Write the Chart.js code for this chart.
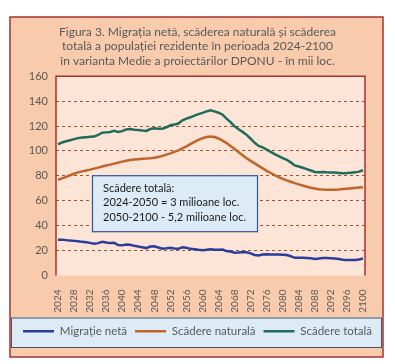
<!DOCTYPE html>
<html>
<head>
<meta charset="utf-8">
<script src="https://cdn.jsdelivr.net/npm/chart.js"></script>
<style>
body { margin: 0; background: #fff; }
</style>
</head>
<body>
<canvas id="grafic" width="395" height="364"></canvas>
<script>
// anii 2024-2100
const ani = Array.from({length: 77}, (_, i) => String(2024 + i));

const migratieNeta = [
    28.8, 28.8, 28.4, 28.0, 27.8, 27.5, 27.0, 26.7, 26.2, 25.5,
    26.0, 27.0, 26.5, 26.0, 26.2, 24.5, 24.2, 24.8, 24.6, 23.8,
    23.3, 22.6, 22.0, 23.2, 23.4, 22.5, 21.5, 21.8, 22.2, 21.6,
    21.4, 22.6, 22.3, 21.4, 21.0, 20.6, 20.3, 20.6, 21.0, 20.6,
    20.7, 20.8, 19.6, 19.2, 18.3, 18.4, 18.8, 18.7, 17.8, 16.5,
    16.0, 16.8, 17.1, 16.9, 16.8, 16.9, 16.7, 16.5, 15.5, 14.2,
    14.3, 14.3, 14.1, 13.8, 13.3, 13.6, 14.1, 14.0, 13.9, 13.7,
    13.2, 12.6, 12.5, 12.5, 12.5, 12.8, 13.6
];

const scadereNaturala = [
    76.8, 78.0, 79.2, 80.5, 81.7, 82.8, 83.6, 84.3, 85.0, 85.8,
    86.6, 87.5, 88.3, 89.0, 89.8, 90.6, 91.4, 92.1, 92.7, 93.1,
    93.4, 93.7, 93.9, 94.2, 94.6, 95.2, 96.0, 97.0, 98.0, 99.2,
    100.5, 102.0, 103.7, 105.5, 107.2, 108.8, 110.2, 111.2, 111.6, 111.2,
    110.0, 108.3, 106.3, 104.0, 101.5, 99.0, 96.5, 94.2, 92.0, 90.0,
    88.0, 86.0, 84.0, 82.3, 80.6, 79.0, 77.6, 76.4, 75.3, 74.2,
    73.2, 72.2, 71.3, 70.5, 69.8, 69.3, 69.0, 68.8, 68.8, 68.9,
    69.1, 69.4, 69.7, 70.0, 70.3, 70.6, 70.9
];

const scadereTotala = [
    105.2, 106.8, 107.8, 108.6, 109.5, 110.3, 110.7, 111.0, 111.3, 111.5,
    112.8, 114.6, 114.9, 115.2, 116.1, 115.3, 115.9, 117.3, 117.6, 117.0,
    116.8, 116.4, 116.1, 117.6, 118.2, 117.9, 117.8, 119.0, 120.6, 121.2,
    122.0, 124.6, 126.0, 127.0, 128.3, 129.5, 130.6, 131.8, 132.6, 131.8,
    130.7, 129.1, 125.9, 123.2, 119.8, 117.4, 115.3, 112.9, 109.8, 106.5,
    104.0, 102.8, 101.1, 99.2, 97.4, 95.9, 94.3, 92.9, 90.8, 88.4,
    87.5, 86.5, 85.4, 84.3, 83.1, 82.9, 83.1, 82.8, 82.7, 82.6,
    82.3, 82.0, 82.2, 82.5, 82.8, 83.4, 84.5
];

const titlu = [
    'Figura 3. Migrația netă, scăderea naturală și scăderea',
    'totală a populației rezidente în perioada 2024-2100',
    'în varianta Medie a proiectărilor DPONU - în mii loc.'
];
const notaText = [
    'Scădere totală:',
    '2024-2050 = 3 milioane loc.',
    '2050-2100 - 5,2 milioane loc.'
];

Chart.defaults.font.family = 'Lato';
Chart.defaults.color = '#595959';

// fundalurile, chenarul graficului si caseta cu text
const decor = {
    id: 'decor',
    beforeDraw(chart) {
        const {ctx, chartArea: a, legend} = chart;
        ctx.save();
        ctx.fillStyle = '#F8CBAD';
        ctx.fillRect(10, 17, 373, 340);
        ctx.strokeStyle = '#A8322D';
        ctx.lineWidth = 1.5;
        ctx.strokeRect(10, 17, 373, 340);
        ctx.fillStyle = '#FCE4D6';
        ctx.fillRect(a.left, a.top, a.right - a.left, a.bottom - a.top);
        ctx.fillStyle = '#DDEBF7';
        ctx.fillRect(11, legend.top, 371, legend.height);
        ctx.strokeStyle = '#44546A';
        ctx.lineWidth = 1;
        ctx.strokeRect(11.5, legend.top + 0.5, 370, legend.height);
        ctx.restore();
    },
    beforeDatasetsDraw(chart) {
        const {ctx, chartArea: a} = chart;
        ctx.save();
        ctx.strokeStyle = '#A8322D';
        ctx.lineWidth = 1.5;
        ctx.beginPath();
        ctx.moveTo(a.left, a.bottom);
        ctx.lineTo(a.left, a.top);
        ctx.lineTo(a.right, a.top);
        ctx.lineTo(a.right, a.bottom);
        ctx.stroke();
        ctx.restore();
    },
    afterDraw(chart) {
        const {ctx, chartArea: a} = chart;
        const x = a.left + 36, y = a.top + 99;
        ctx.save();
        ctx.fillStyle = '#DDEBF7';
        ctx.fillRect(x, y, 165, 56);
        ctx.strokeStyle = '#2F5597';
        ctx.lineWidth = 1.2;
        ctx.strokeRect(x + 0.5, y + 0.5, 165, 56);
        ctx.fillStyle = '#1a1a1a';
        ctx.font = '11px Lato';
        ctx.textBaseline = 'middle';
        notaText.forEach((t, i) => ctx.fillText(t, x + 11, y + 13 + i * 14.5));
        ctx.restore();
    }
};

new Chart(document.getElementById('grafic'), {
    type: 'line',
    data: {
        labels: ani,
        datasets: [
            {
                label: 'Migrație netă',
                data: migratieNeta,
                borderColor: '#2B3C9B',
                backgroundColor: '#2B3C9B',
                borderWidth: 2.5,
                pointRadius: 0,
                tension: 0
            },
            {
                label: 'Scădere naturală',
                data: scadereNaturala,
                borderColor: '#C0652A',
                backgroundColor: '#C0652A',
                borderWidth: 2.5,
                pointRadius: 0,
                tension: 0
            },
            {
                label: 'Scădere totală',
                data: scadereTotala,
                borderColor: '#1F6B5C',
                backgroundColor: '#1F6B5C',
                borderWidth: 2.5,
                pointRadius: 0,
                tension: 0
            }
        ]
    },
    options: {
        responsive: false,
        animation: false,
        layout: { padding: { top: 0, left: 0, right: 0, bottom: 17 } },
        scales: {
            x: {
                offset: true,
                grid: { display: false },
                border: { display: false },
                ticks: {
                    autoSkip: false,
                    minRotation: 90,
                    maxRotation: 90,
                    padding: 6,
                    font: { size: 10 },
                    callback: function(v, i) { return i % 4 === 0 ? ani[i] : ''; }
                },
                afterFit: s => { s.height = 42; }
            },
            y: {
                min: 0,
                max: 160,
                ticks: { stepSize: 20, padding: 8, font: { size: 11 } },
                grid: {
                    drawTicks: false,
                    borderDash: [3, 3],
                    color: c => (c.tick.value === 0 || c.tick.value === 160) ? 'rgba(0,0,0,0)' : '#9C5530'
                },
                border: { display: false, dash: [3, 3] },
                afterFit: s => { s.width = 56; }
            },
            dreapta: {
                position: 'right',
                display: true,
                grid: { display: false },
                border: { display: false },
                ticks: { display: false },
                afterFit: s => { s.width = 30; }
            }
        },
        plugins: {
            title: {
                display: true,
                text: titlu,
                color: '#595959',
                font: { size: 12, weight: 'normal' },
                padding: { top: 25, bottom: 8 }
            },
            legend: {
                position: 'bottom',
                onClick: null,
                labels: {
                    usePointStyle: true,
                    pointStyle: 'line',
                    pointStyleWidth: 31,
                    padding: 8,
                    color: '#595959',
                    font: { size: 11.5 }
                }
            },
            tooltip: { enabled: false }
        }
    },
    plugins: [decor]
});
</script>
</body>
</html>
